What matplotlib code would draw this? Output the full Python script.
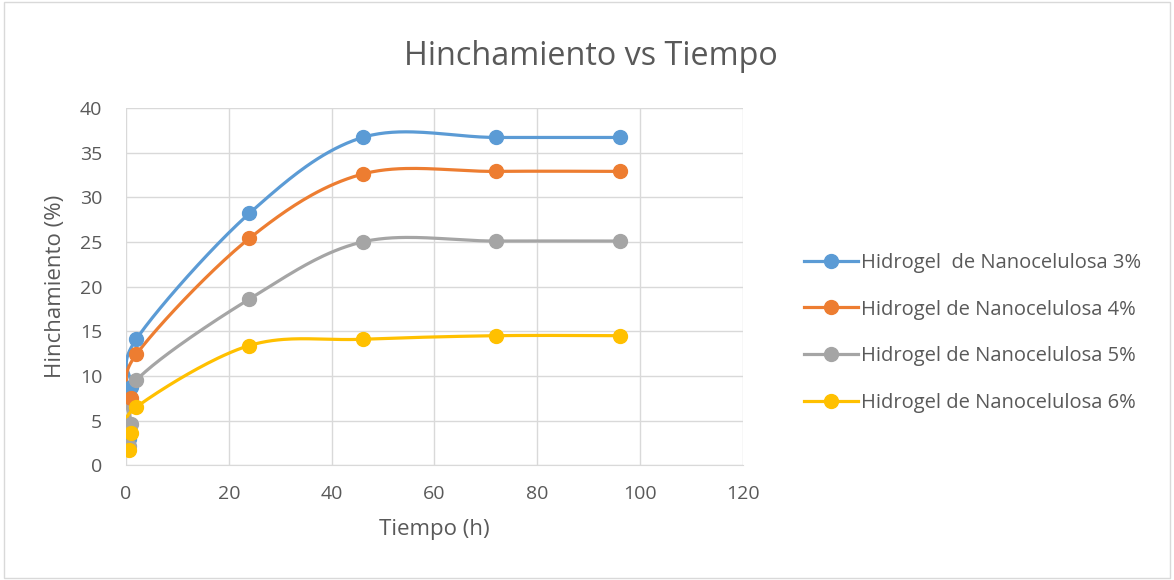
import numpy as np
import matplotlib.pyplot as plt
from matplotlib.patches import Rectangle

plt.rcParams['font.family'] = ['Open Sans', 'DejaVu Sans']

# -----------------------------------------------------------------------
# data
# -----------------------------------------------------------------------
tiempo = [0.5, 1, 2, 24, 46, 72, 96]

hinch_3 = [2.9, 8.7, 14.1, 28.2, 36.7, 36.7, 36.7]
hinch_4 = [4.3, 7.5, 12.4, 25.4, 32.6, 32.9, 32.9]
hinch_5 = [2.2, 4.6, 9.5, 18.6, 25.0, 25.1, 25.1]
hinch_6 = [1.7, 3.6, 6.5, 13.4, 14.1, 14.5, 14.5]

labels = ["Hidrogel  de Nanocelulosa 3%",
          "Hidrogel de Nanocelulosa 4%",
          "Hidrogel de Nanocelulosa 5%",
          "Hidrogel de Nanocelulosa 6%"]
colors = ["#5B9BD5", "#ED7D31", "#A5A5A5", "#FFC000"]

TXT = "#595959"
GRID = "#D9D9D9"


def smooth(x, y, n=40):
    # Excel-style smoothed line: cubic Bezier through points (tension 1/6)
    p = np.column_stack([x, y]).astype(float)
    pts = [p[0]]
    t = np.linspace(0, 1, n)[1:, None]
    for i in range(len(p) - 1):
        p0 = p[i - 1] if i > 0 else p[i]
        p1, p2 = p[i], p[i + 1]
        p3 = p[i + 2] if i + 2 < len(p) else p[i + 1]
        c1 = p1 + (p2 - p0) / 6
        c2 = p2 - (p3 - p1) / 6
        seg = ((1 - t) ** 3) * p1 + 3 * ((1 - t) ** 2) * t * c1 + 3 * (1 - t) * t ** 2 * c2 + t ** 3 * p2
        pts.extend(seg)
    pts = np.array(pts)
    return pts[:, 0], pts[:, 1]


fig = plt.figure(figsize=(11.74, 5.8), dpi=100)
ax = fig.add_axes([0.1073, 0.198, 0.5256, 0.6158])

fig.patches.append(Rectangle((0.003, 0.003), 0.994, 0.994, transform=fig.transFigure,
                             fill=False, edgecolor=GRID, linewidth=1))

for ys, lab, c in zip([hinch_3, hinch_4, hinch_5, hinch_6], labels, colors):
    sx, sy = smooth(tiempo, ys)
    ax.plot(sx, sy, color=c, linewidth=2.3, solid_capstyle="round", zorder=3)
    ax.plot(tiempo, ys, linestyle="none", marker="o", markersize=10,
            color=c, zorder=4)
    ax.plot([], [], color=c, linewidth=2.3, marker="o", markersize=10, label=lab)

ax.set_xlim(0, 120)
ax.set_ylim(0, 40)
ax.set_xticks(range(0, 121, 20))
ax.set_yticks(range(0, 41, 5))
ax.grid(True, color=GRID, linewidth=1)
ax.set_axisbelow(True)
for s in ax.spines.values():
    s.set_visible(False)
ax.spines["bottom"].set_visible(True)
ax.spines["bottom"].set_color(GRID)
ax.tick_params(length=0, labelsize=14, labelcolor=TXT)
ax.tick_params(axis="x", pad=14)
ax.tick_params(axis="y", pad=17)

ax.set_xlabel("Tiempo (h)", fontsize=16, color=TXT, labelpad=12)
ax.set_ylabel("Hinchamiento (%)", fontsize=16, color=TXT, labelpad=10)
fig.text(0.503, 0.903, "Hinchamiento vs Tiempo", ha="center", va="center",
         fontsize=23.3, color=TXT)

leg = fig.legend(loc="center left", bbox_to_anchor=(0.669, 0.426), frameon=False,
                 fontsize=14.5, labelcolor=TXT, handlelength=2.7, handletextpad=0.15,
                 labelspacing=1.33)

fig.savefig("out.png", dpi=100)
